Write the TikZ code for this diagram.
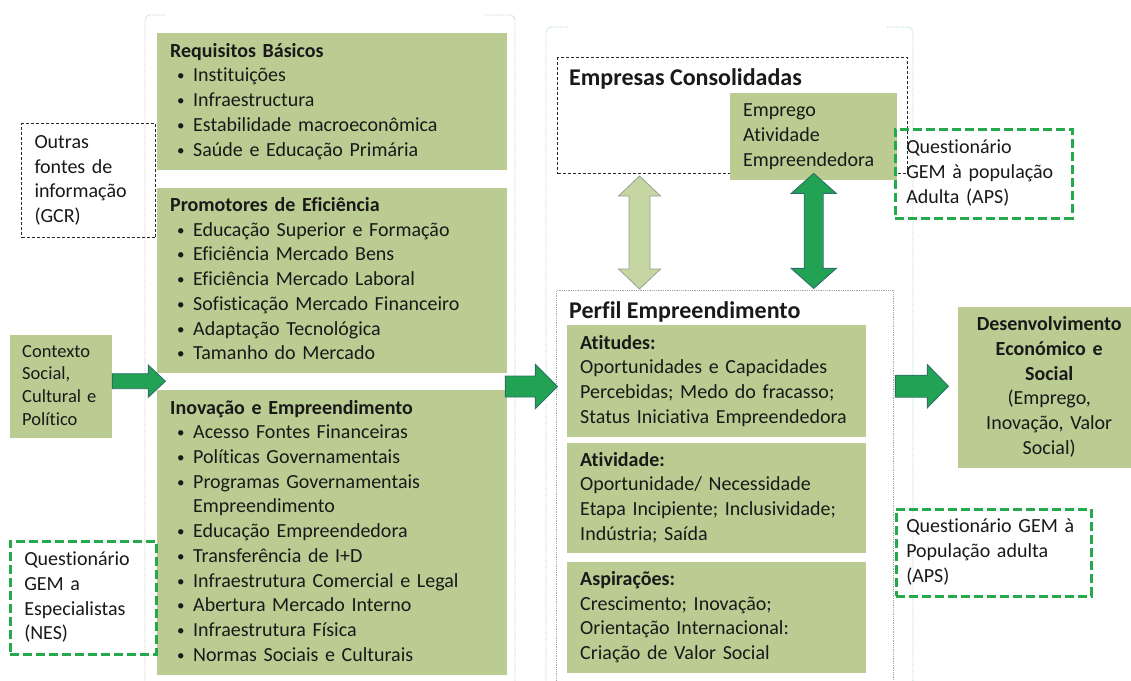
\documentclass[tikz,border=0pt]{standalone}
\usepackage{fontspec}
\setmainfont{Carlito}[Ligatures=NoCommon]
\usepackage{tikz}
\definecolor{GemBoxGreen}{RGB}{187,204,146}
\definecolor{GemDashGreen}{RGB}{38,168,76}
\definecolor{GemArrowGreen}{RGB}{34,163,84}
\definecolor{GemArrowEdge}{RGB}{45,110,105}
\definecolor{GemLightArrow}{RGB}{197,214,162}
\definecolor{GemLightEdge}{RGB}{150,160,150}
\definecolor{GemText}{RGB}{25,25,25}
\definecolor{GemBracketGray}{RGB}{195,195,195}
\definecolor{GemBracketTeal}{RGB}{160,208,208}

\newcommand{\fsz}{\fontsize{20}{24.7}\selectfont}
\newcommand{\fsm}{\fontsize{18.5}{22.7}\selectfont}
\newcommand{\fttl}{\fontsize{24}{29}\selectfont\bfseries}
\newcommand{\itm}[1]{\\\hspace*{7pt}\makebox[16pt][l]{\raisebox{1pt}{\fontsize{15}{15}\selectfont\textbullet}}#1}

% block arrow: start, shaft length, head length, shaft half, head half
\newcommand{\flecha}[6][]{%
  \draw[#1] #2 ++(0,-#5) -- ++(#3,0) -- ++(0,{#5-#6}) -- ++(#4,#6)
    -- ++(-#4,#6) -- ++(0,{#5-#6}) -- ++(-#3,0) -- cycle;}
% double block arrow, downward from top tip: start, length, head length, shaft half, head half
\newcommand{\dflecha}[6][]{%
  \draw[#1] #2 -- ++(#6,#4) -- ++({#5-#6},0) -- ++(0,{#3-2*#4}) -- ++({#6-#5},0)
    -- ++(-#6,#4) -- ++(-#6,-#4) -- ++({#6-#5},0) -- ++(0,{2*#4-#3}) -- ++({#5-#6},0) -- cycle;}

\begin{document}
\begin{tikzpicture}[x=1pt,y=-1pt,
txt/.style={
anchor=north west,
align=left,
inner ysep=0pt,
font=\fsz,
text=GemText,
execute at begin node=\strut,
execute at end node=\strut
},
box/.style={txt,fill=GemBoxGreen},
greendash/.style={txt,draw=GemDashGreen,line width=2.5pt,dash pattern=on 9pt off 4pt},
blackdash/.style={draw=black!85,line width=1pt,dash pattern=on 3pt off 2pt},
dotbox/.style={draw=gray!70,line width=0.8pt,densely dotted},
ttl/.style={anchor=west,inner sep=0pt,font=\fttl,text=GemText},
brkgray/.style={draw=GemBracketGray,line width=0.8pt,densely dotted,rounded corners=5pt},
brkteal/.style={draw=GemBracketTeal,line width=0.8pt,densely dotted,rounded corners=5pt},
bigarrow/.style={fill=GemArrowGreen,draw=GemArrowEdge,line width=0.9pt},
lightarrow/.style={fill=GemLightArrow,draw=GemLightEdge,line width=0.8pt}
]
\useasboundingbox (0,0) rectangle (1131,680);
\clip (0,0) rectangle (1131,680);
\fill[white] (0,0) rectangle (1131,680);

% brackets
\draw[brkgray] (165,15) -- (145,15) -- (145,690);
\draw[brkgray] (485,15) -- (515,15) -- (515,690);
\draw[brkteal] (568,27) -- (546,27) -- (546,690);
\draw[brkteal] (887,27) -- (913,27) -- (913,690);

% left column
\node[box,text width=324pt,inner xsep=13pt,minimum height=137pt] (req) at (157,33)
{\textbf{Requisitos Básicos}\itm{Instituições}\itm{Infraestructura}\itm{Estabilidade macroeconômica}\itm{Saúde e Educação Primária}};
\node[box,text width=324pt,inner xsep=13pt,minimum height=185pt] (prom) at (157,188)
{\textbf{Promotores de Eficiência}\itm{Educação Superior e Formação}\itm{Eficiência Mercado Bens}\itm{Eficiência Mercado Laboral}\itm{Sofisticação Mercado Financeiro}\itm{Adaptação Tecnológica}\itm{Tamanho do Mercado}};
\node[box,text width=324pt,inner xsep=13pt,minimum height=285pt] (inov) at (157,390)
{\textbf{Inovação e Empreendimento}\itm{Acesso Fontes Financeiras}\itm{Políticas Governamentais}\itm{Programas Governamentais}\\\hspace*{23pt}Empreendimento\itm{Educação Empreendedora}\itm{Transferência de I+D}\itm{Infraestrutura Comercial e Legal}\itm{Abertura Mercado Interno}\itm{Infraestrutura Física}\itm{Normas Sociais e Culturais}};

\node[txt,blackdash,text width=108pt,inner xsep=13pt,minimum height=114pt] (outras) at (21,123)
{Outras\\fontes de\\informação\\(GCR)};
\node[box,font=\fsm,text width=78pt,inner xsep=12pt,minimum height=103pt] (ctx) at (10,335)
{Contexto\\Social,\\Cultural e\\Político};
\node[greendash,text width=118pt,inner xsep=14pt,minimum height=113pt] (nes) at (9,540)
{Questionário\\GEM a\\Especialistas\\(NES)};

% middle column
\node[dotbox,anchor=north west,minimum width=337pt,minimum height=400pt,inner sep=0pt] (perf) at (556,290) {};
\node[ttl] (perft) at (569,312) {Perfil Empreendimento};
\node[blackdash,anchor=north west,minimum width=350pt,minimum height=116pt,inner sep=0pt] (emp) at (557,57) {};
\node[ttl] (empt) at (569,79) {Empresas Consolidadas};
\node[box,text width=141pt,inner xsep=13pt,minimum height=87pt] (empr) at (730,93)
{Emprego\\Atividade\\Empreendedora};

\node[box,text width=273pt,inner xsep=13pt,minimum height=112pt] (ati) at (567,325)
{\textbf{Atitudes:}\\Oportunidades e Capacidades\\Percebidas; Medo do fracasso;\\Status Iniciativa Empreendedora};
\node[box,text width=273pt,inner xsep=13pt,minimum height=110pt] (atv) at (567,443)
{\textbf{Atividade:}\\Oportunidade/ Necessidade\\Etapa Incipiente; Inclusividade;\\Indústria; Saída};
\node[box,text width=273pt,inner xsep=13pt,minimum height=111pt] (asp) at (567,562)
{\textbf{Aspirações:}\\Crescimento; Inovação;\\Orientação Internacional:\\Criação de Valor Social};

% right column
\node[greendash,text width=155pt,inner xsep=11pt,minimum height=89pt] (aps1) at (894,128)
{Questionário\\GEM à população\\Adulta (APS)};
\node[box,align=center,text width=166pt,inner xsep=8pt,minimum height=161pt] (des) at (958,307)
{\textbf{Desenvolvimento}\\\textbf{Económico e}\\\textbf{Social}\\(Emprego,\\Inovação, Valor\\Social)};
\node[greendash,text width=175pt,inner xsep=10pt,minimum height=87pt] (aps2) at (895,508)
{Questionário GEM à\\População adulta\\(APS)};

% arrows
\flecha[bigarrow]{([yshift=5.5pt]ctx.east)}{36}{17}{7.5}{16}
\flecha[bigarrow]{([shift={(-2pt,3.5pt)}]inov.north east)}{30}{22}{10.5}{22}
\flecha[bigarrow]{([shift={(29pt,-5pt)}]ati.east)}{32}{21}{11}{21.5}
\dflecha[lightarrow]{([shift={(-93pt,-2pt)}]emp.south)}{113}{20}{10.5}{21}
\dflecha[bigarrow]{([yshift=7pt]empr.south)}{115}{20}{9.5}{22.5}
\end{tikzpicture}
\end{document}
